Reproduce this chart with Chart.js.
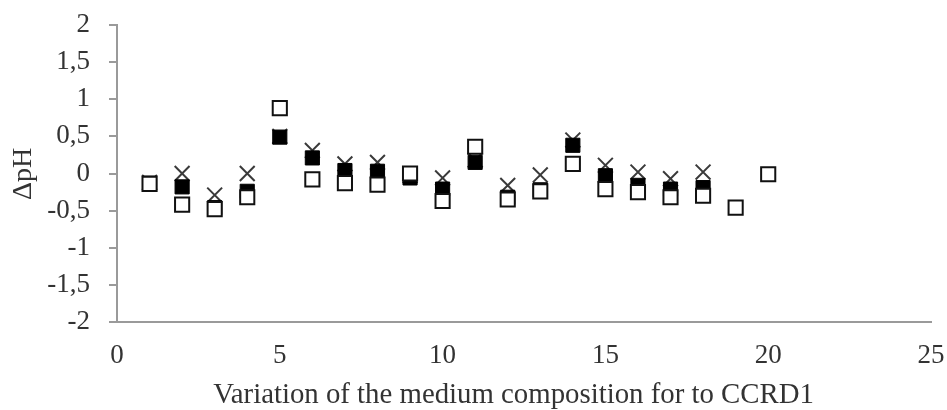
<html>
<head>
  <script src="https://cdn.jsdelivr.net/npm/chart.js"></script>
  <style>
    body { margin: 0; background: #fff; }
    #wrap { width: 947px; height: 410px; }
  </style>
</head>
<body>
  <div id="wrap"><canvas id="myChart"></canvas></div>

<script>
  // medium composition variation (CCRD1 runs)
  const runs = [1, 2, 3, 4, 5, 6, 7, 8, 9, 10, 11, 12, 13, 14, 15, 16, 17, 18, 19, 20];
  // open squares
  const openSq = [-0.14, -0.42, -0.48, -0.32, 0.88, -0.08, -0.13, -0.15, 0.0, -0.37,
    0.36, -0.35, -0.24, 0.13, -0.21, -0.25, -0.32, -0.30, -0.46, -0.01];
  // filled squares
  const filledSq = [-0.13, -0.18, -0.46, -0.24, 0.49, 0.21, 0.04, 0.03, -0.06, -0.21,
    0.15, -0.32, -0.22, 0.38, -0.03, -0.16, -0.21, -0.19, null, null];
  // crosses
  const crosses = [-0.12, 0.0, -0.29, 0.0, 0.5, 0.31, 0.13, 0.15, -0.03, -0.06,
    0.18, -0.16, -0.02, 0.45, 0.11, 0.02, -0.07, 0.02, null, null];

  const xTicks = [0, 5, 10, 15, 20, 25];
  const yTicks = [-2, -1.5, -1, -0.5, 0, 0.5, 1, 1.5, 2];

  const xTitle = 'Variation of the medium composition for to CCRD1';
  const yTitle = 'ΔpH';

  function pts(vals) {
    const out = [];
    for (var i = 0; i < runs.length; i++) {
      if (vals[i] !== null) out.push({ x: runs[i], y: vals[i] });
    }
    return out;
  }

  const axisGray = '#9a9a9a';
  const txt = '#333333';
  const serif = "'Liberation Serif', 'Times New Roman', serif";

  // axis titles drawn by hand so they sit where the original has them
  const titlesPlugin = {
    id: 'titles',
    afterDraw: function (chart) {
      const ctx = chart.ctx;
      ctx.save();
      ctx.fillStyle = txt;
      ctx.font = '28.8px ' + serif;
      ctx.textAlign = 'center';
      ctx.textBaseline = 'alphabetic';
      ctx.fillText(xTitle, 513.5, 403);
      ctx.translate(31, 174);
      ctx.rotate(-Math.PI / 2);
      ctx.font = '28px ' + serif;
      ctx.fillText(yTitle, 0, 0);
      ctx.restore();
    }
  };

  const config = {
    type: 'scatter',
    data: {
      datasets: [{
        label: 'open',
        data: pts(openSq),
        pointStyle: 'rect',
        pointRadius: 10,
        pointBackgroundColor: '#ffffff',
        pointBorderColor: '#111111',
        pointBorderWidth: 2
      },
      {
        label: 'filled',
        data: pts(filledSq),
        pointStyle: 'rect',
        pointRadius: 10,
        pointBackgroundColor: '#000000',
        pointBorderColor: '#000000',
        pointBorderWidth: 1
      },
      {
        label: 'cross',
        data: pts(crosses),
        pointStyle: 'crossRot',
        pointRadius: 10.5,
        pointBorderColor: '#3a3a3a',
        pointBorderWidth: 2
      }]
    },
    options: {
      responsive: false,
      animation: false,
      devicePixelRatio: 1,
      layout: { padding: { top: 25, right: 16, left: 0, bottom: 0 } },
      plugins: { legend: { display: false }, tooltip: { enabled: false } },
      scales: {
        x: {
          type: 'linear',
          min: 0,
          max: 25,
          afterBuildTicks: function (s) { s.ticks = xTicks.map(v => ({ value: v })); },
          afterFit: function (s) { s.height = 88; s.paddingLeft = 0; s.paddingRight = 0; },
          grid: { display: false, drawOnChartArea: false, drawTicks: true, tickLength: 8, color: axisGray, lineWidth: 2 },
          border: { color: axisGray, width: 2 },
          ticks: { color: txt, font: { family: serif, size: 27 }, padding: 10, maxRotation: 0 }
        },
        y: {
          type: 'linear',
          min: -2,
          max: 2,
          afterBuildTicks: function (s) { s.ticks = yTicks.map(v => ({ value: v })); },
          afterFit: function (s) { s.width = 117; s.paddingTop = 0; s.paddingBottom = 0; },
          grid: { display: true, drawOnChartArea: false, drawTicks: true, tickLength: 8, color: axisGray, lineWidth: 2 },
          border: { color: axisGray, width: 2 },
          ticks: {
            color: txt, font: { family: serif, size: 27 }, padding: 19,
            callback: v => String(v).replace('.', ',')
          }
        }
      }
    },
    plugins: [titlesPlugin]
  };

  const cv = document.getElementById('myChart');
  cv.width = 947;
  cv.height = 410;
  const myChart = new Chart(cv, config);
</script>
</body>
</html>
